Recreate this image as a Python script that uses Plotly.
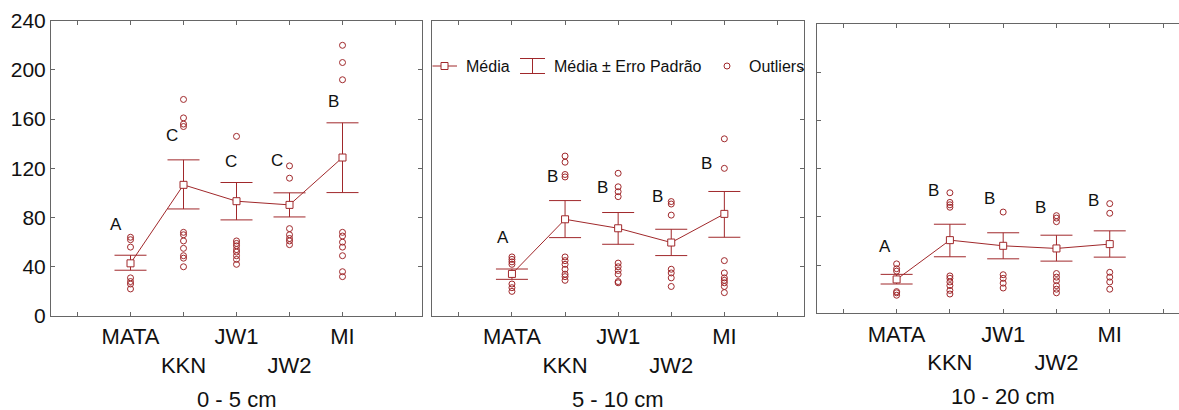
import plotly.graph_objects as go

# ---------------- data ----------------
categories = ["MATA", "KKN", "JW1", "JW2", "MI"]
depths = ["0 - 5 cm", "5 - 10 cm", "10 - 20 cm"]

mean_0_5 = [42.8, 106.6, 93.3, 90.3, 128.8]
upper_0_5 = [49.4, 126.9, 108.5, 100.1, 157.0]
lower_0_5 = [37.2, 87.0, 78.1, 80.5, 100.3]
outliers_0_5 = [
    [64, 62, 56, 31, 28, 26, 22],
    [176, 161, 156, 154, 68, 66, 61, 55, 49, 47, 40],
    [146, 61, 59, 57, 54, 52, 49, 46, 42],
    [122, 112, 71, 66, 63, 61, 58],
    [220, 206, 192, 68, 65, 60, 56, 49, 36, 32],
]
letters_0_5 = ["A", "C", "C", "C", "B"]
letter_y_0_5 = [74, 146.5, 125.5, 126, 174.4]

mean_5_10 = [34.2, 78.6, 71.3, 59.7, 83.0]
upper_5_10 = [38.2, 93.8, 84.1, 70.5, 101.2]
lower_5_10 = [29.8, 63.7, 58.3, 49.1, 64.0]
outliers_5_10 = [
    [48, 46, 44, 42, 26, 23, 20],
    [130, 125, 115, 113, 48, 45, 42, 38, 34, 32, 29],
    [116, 105, 101, 97, 43, 40, 37, 34, 28, 27],
    [93, 91, 82, 38, 35, 31, 24],
    [144, 120, 45, 35, 31, 29, 27, 24, 19],
]
letters_5_10 = ["A", "B", "B", "B", "B"]
letter_y_5_10 = [64, 113.4, 104.4, 97, 124.2]

mean_10_20 = [28.1, 60.7, 56.0, 53.8, 57.4]
upper_10_20 = [32.3, 73.9, 66.8, 64.8, 68.4]
lower_10_20 = [24.3, 46.9, 45.2, 43.3, 46.6]
outliers_10_20 = [
    [41, 37, 35, 18, 17, 15],
    [100, 92, 90, 88, 31, 29, 26, 23, 19, 16],
    [84, 32, 29, 25, 21],
    [81, 79, 76, 33, 30, 27, 23, 20, 17],
    [91, 83, 34, 30, 26, 20],
]
letters_10_20 = ["A", "B", "B", "B", "B"]
letter_y_10_20 = [55.7, 101.5, 95.2, 87.8, 93.8]

y_ticks = [0, 40, 80, 120, 160, 200, 240]

# ---------------- styling / layout ----------------
W, H = 1179, 410
RED = "#A0282B"
AXC = "#666666"
FONT = "Liberation Sans, Arial, sans-serif"

panels = [
    dict(mean=mean_0_5, up=upper_0_5, lo=lower_0_5, out=outliers_0_5,
         let=letters_0_5, ly=letter_y_0_5, loff=[-0.28, -0.22, -0.10, -0.23, -0.17],
         xd=(51 / W, 422 / W), yd=(1 - 316 / H, 1 - 20.7 / H), xr=[-1.5, 5.5], tb=413.5),
    dict(mean=mean_5_10, up=upper_5_10, lo=lower_5_10, out=outliers_5_10,
         let=letters_5_10, ly=letter_y_5_10, loff=[-0.16, -0.23, -0.29, -0.25, -0.33],
         xd=(432.3 / W, 804 / W), yd=(1 - 316 / H, 1 - 20.7 / H), xr=[-1.5, 5.5], tb=413.5),
    dict(mean=mean_10_20, up=upper_10_20, lo=lower_10_20, out=outliers_10_20,
         let=letters_10_20, ly=letter_y_10_20, loff=[-0.22, -0.30, -0.26, -0.30, -0.30],
         xd=(816.7 / W, 1.0), yd=(1 - 313.3 / H, 1 - 24 / H), xr=[-1.5, 5.3], tb=410.5),
]

idx = list(range(len(categories)))
tickvals = [-1] + idx + [len(categories)]
ticktext = [""] + [("<br>" + c) if i % 2 == 1 else c for i, c in enumerate(categories)] + [""]

fig = go.Figure()
annotations = []

for p_i, p in enumerate(panels):
    n = "" if p_i == 0 else str(p_i + 1)
    xa, ya = "x" + n, "y" + n

    # outliers
    ox, oy = [], []
    for i, vals in enumerate(p["out"]):
        ox += [i] * len(vals)
        oy += vals
    fig.add_trace(go.Scatter(
        x=ox, y=oy, mode="markers", xaxis=xa, yaxis=ya, showlegend=False,
        marker=dict(symbol="circle-open", size=6, color=RED, line=dict(width=1, color=RED)),
    ))

    # mean + SE
    fig.add_trace(go.Scatter(
        x=idx, y=p["mean"], mode="lines+markers", xaxis=xa, yaxis=ya, showlegend=False,
        line=dict(color=RED, width=1),
        marker=dict(symbol="square", size=7, color="white", line=dict(width=1, color=RED)),
        error_y=dict(type="data", symmetric=False,
                     array=[u - m for u, m in zip(p["up"], p["mean"])],
                     arrayminus=[m - l for m, l in zip(p["mean"], p["lo"])],
                     color=RED, thickness=1, width=16),
    ))

    # letters
    for i, (t, yv) in enumerate(zip(p["let"], p["ly"])):
        annotations.append(dict(x=i + p["loff"][i], y=yv, xref=xa, yref=ya, text=t,
                                showarrow=False, font=dict(size=17, color="#111", family=FONT),
                                xanchor="center", yanchor="middle"))

    # depth title
    annotations.append(dict(x=2, y=1 - p["tb"] / H, xref=xa, yref="paper",
                            text=depths[p_i], showarrow=False,
                            font=dict(size=22, color="#111", family=FONT),
                            xanchor="center", yanchor="bottom"))

    xkey = "xaxis" + n
    ykey = "yaxis" + n
    fig.layout[xkey] = dict(
        domain=list(p["xd"]), range=p["xr"], anchor=ya, automargin=False,
        tickmode="array", tickvals=tickvals, ticktext=ticktext, tickangle=0,
        ticks="inside", ticklen=4, tickcolor=AXC, showline=True, linecolor=AXC,
        linewidth=1, mirror="ticks", showgrid=False, zeroline=False,
        ticklabelstandoff=1,
        tickfont=dict(size=22, color="#111", family=FONT),
    )
    ydict = dict(
        domain=list(p["yd"]), range=[0, 240], anchor=xa, automargin=False,
        tickmode="array", tickvals=y_ticks,
        ticks="inside", ticklen=4, tickcolor=AXC, showline=True, linecolor=AXC,
        linewidth=1, showgrid=False, zeroline=False,
        tickfont=dict(size=21, color="#111", family=FONT),
    )
    if p_i == 0:
        ydict.update(mirror="ticks", showticklabels=True)
    elif p_i == 1:
        ydict.update(side="right", mirror=True, showticklabels=False)
    else:
        ydict.update(mirror=False, showticklabels=False)
    fig.layout[ykey] = ydict

# ---------------- manual legend (panel 2) ----------------
def px(x):
    return x / W

def py(y):
    return 1 - y / H

shapes = []
ly = 66
# Média: line + square
shapes.append(dict(type="line", xref="paper", yref="paper", x0=px(432.5), x1=px(457), y0=py(ly), y1=py(ly),
                   line=dict(color=RED, width=1)))
shapes.append(dict(type="rect", xref="paper", yref="paper", x0=px(441), x1=px(448), y0=py(ly - 3.5), y1=py(ly + 3.5),
                   line=dict(color=RED, width=1), fillcolor="white"))
# Média ± Erro Padrão: I-beam
shapes.append(dict(type="line", xref="paper", yref="paper", x0=px(520), x1=px(545), y0=py(58.5), y1=py(58.5),
                   line=dict(color=RED, width=1)))
shapes.append(dict(type="line", xref="paper", yref="paper", x0=px(520), x1=px(545), y0=py(73.5), y1=py(73.5),
                   line=dict(color=RED, width=1)))
shapes.append(dict(type="line", xref="paper", yref="paper", x0=px(532.5), x1=px(532.5), y0=py(58.5), y1=py(73.5),
                   line=dict(color=RED, width=1)))
# Outliers: circle
shapes.append(dict(type="circle", xref="paper", yref="paper", x0=px(724), x1=px(730), y0=py(ly - 3), y1=py(ly + 3),
                   line=dict(color=RED, width=1), fillcolor="white"))

for txt, x0 in [("Média", 464), ("Média ± Erro Padrão", 552), ("Outliers", 747)]:
    annotations.append(dict(x=px(x0), y=py(ly), xref="paper", yref="paper", text=txt, showarrow=False,
                            xanchor="left", yanchor="middle",
                            font=dict(size=16, color="#111", family=FONT)))

fig.update_layout(
    width=W, height=H, autosize=False,
    margin=dict(l=0, r=0, t=0, b=0, autoexpand=False),
    paper_bgcolor="white", plot_bgcolor="white",
    showlegend=False, annotations=annotations, shapes=shapes,
    font=dict(family=FONT, color="#111"),
)

fig.write_html("out.html")
